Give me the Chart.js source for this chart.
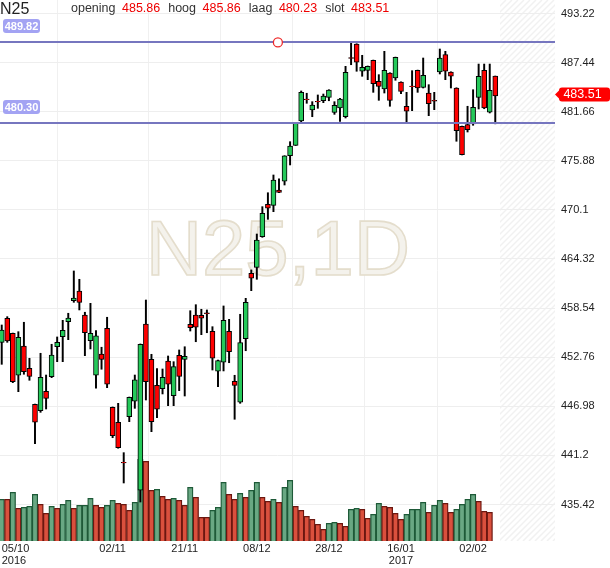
<!DOCTYPE html>
<html><head><meta charset="utf-8">
<script src="https://cdn.jsdelivr.net/npm/chart.js@4.4.1/dist/chart.umd.min.js"></script>
<style>html,body{margin:0;padding:0;background:#fff;overflow:hidden}#wrap{position:relative;width:610px;height:568px}</style>
</head><body><div id="wrap"><canvas id="c" width="610" height="568"></canvas></div>
<script>
// ---------- data ----------
const symbol = 'N25';
const interval = '1D';
const tickIdx  = [0, 20, 33, 46, 59, 72, 85];
const tickText = [['05/10','2016'], '02/11', '21/11', '08/12', '28/12', ['16/01','2017'], '02/02'];
const priceTicks = [493.22, 487.44, 481.66, 475.88, 470.1, 464.32, 458.54, 452.76, 446.98, 441.2, 435.42];
const levels = [489.82, 480.30];
const levelAnchor = 49.8;
const headerNames = ['opening', 'hoog', 'laag', 'slot'];

const opens = [454.51,457.34,455.57,450.63,454.08,451.45,447.22,446.46,448.75,450.46,
453.99,455.17,456.94,459.41,460.55,457.73,454.70,450.63,453.14,456.16,
446.86,445.10,440.38,445.75,447.57,437.09,456.67,452.51,449.45,449.05,
452.31,448.23,452.98,452.51,456.63,457.73,457.69,457.97,455.81,451.10,
452.16,455.81,449.92,447.45,454.94,462.64,463.34,466.95,470.76,470.64,
472.44,473.47,476.48,477.70,480.57,483.16,481.86,482.88,482.95,483.35,
481.57,482.10,481.07,488.02,489.63,486.42,486.53,487.71,485.24,484.33,
486.22,485.63,485.16,482.30,484.69,486.53,484.53,483.86,482.99,486.33,
488.37,486.33,484.45,479.94,480.13,480.21,483.35,486.53,481.59,485.86];
const highs = [456.55,457.53,455.60,455.76,456.87,452.63,447.25,453.22,450.66,454.28,
455.14,457.10,457.93,462.91,461.93,458.05,459.10,455.88,453.93,457.46,
446.90,447.33,441.52,448.07,450.66,454.32,459.49,453.10,451.41,451.37,
452.90,452.23,453.61,453.99,458.23,458.94,458.40,458.32,456.35,452.43,
458.79,457.22,450.63,457.81,459.69,463.03,467.26,470.48,472.12,474.21,
473.77,476.48,478.13,480.33,484.10,483.83,482.84,483.63,483.74,484.25,
482.84,483.23,487.00,489.75,489.66,488.30,487.04,487.74,486.02,488.77,
486.25,488.09,485.19,483.94,486.49,486.56,487.98,484.84,483.94,489.04,
488.77,486.36,484.48,479.97,482.30,484.25,487.27,487.27,487.27,485.86];
const lows = [451.92,454.51,449.76,448.70,450.75,450.04,442.58,446.27,446.66,450.35,
452.23,452.23,454.82,459.22,458.32,452.94,453.73,449.10,451.34,449.17,
443.28,442.04,437.95,445.17,446.74,435.71,447.72,443.99,445.64,448.43,
447.05,447.05,448.82,448.19,455.84,454.58,455.41,455.64,451.25,449.29,
451.14,452.11,445.45,447.33,453.52,460.59,461.93,466.87,468.99,469.89,
472.14,473.03,475.39,477.68,480.41,482.65,481.07,482.06,482.72,482.95,
481.35,480.51,480.92,487.19,486.42,485.83,485.43,483.94,483.00,483.86,
482.30,485.36,483.78,480.33,481.78,483.94,484.45,481.19,481.90,486.10,
485.43,484.45,478.18,476.56,479.27,480.06,481.98,482.01,481.51,480.23];
const closes = [455.96,454.67,449.87,455.10,451.05,450.51,445.10,450.39,447.92,453.02,
454.51,455.93,457.37,459.73,459.22,455.64,455.57,455.26,452.51,449.57,
443.52,442.11,440.30,448.04,450.08,454.28,449.87,445.17,446.63,450.39,
449.57,451.64,450.51,452.87,456.23,456.28,457.34,457.89,452.63,452.35,
457.10,453.41,449.45,454.47,459.22,462.05,466.56,469.70,470.29,473.62,
472.17,476.45,477.62,480.29,483.94,483.08,482.45,482.80,483.51,484.21,
482.41,483.15,486.30,487.94,487.48,486.89,487.00,484.96,484.65,486.53,
483.00,488.06,484.06,481.71,484.61,484.45,485.94,482.60,482.91,487.98,
486.42,485.83,479.42,476.60,479.54,482.18,485.83,482.10,484.18,483.51];
const volumes = [41.7,41.7,48.7,32.7,33.7,34.7,46.7,36.7,27.7,34.7,
32.7,36.7,40.7,32.7,35.7,35.7,42.7,35.7,33.7,35.7,
40.7,37.7,36.7,30.7,38.7,81.7,79.7,50.7,51.7,44.7,
41.7,42.7,40.7,35.7,53.7,43.7,23.7,23.7,30.7,33.7,
58.7,46.7,41.7,47.7,43.7,50.7,58.7,43.7,39.7,41.7,
38.7,53.7,60.7,34.7,30.7,24.7,21.7,16.7,11.7,17.7,
18.7,17.7,14.7,31.7,32.7,31.7,22.7,26.7,37.7,34.7,
33.7,27.7,21.7,26.7,31.7,31.7,38.7,28.7,35.7,40.7,
37.7,28.7,31.7,36.7,41.7,46.7,39.7,29.7,28.7];
const volUp = [1,0,1,0,1,1,1,0,0,1,
0,1,1,0,1,1,1,0,0,1,
1,0,0,0,1,1,0,0,1,0,
0,1,0,0,1,0,0,0,1,1,
1,0,0,1,0,1,1,0,0,1,
0,1,1,0,0,0,0,0,0,1,
1,0,0,1,1,0,0,1,1,0,
0,0,0,1,1,1,1,0,1,1,
0,0,1,1,1,1,0,0,0];

// ---------- chart ----------
const FONT = '"Liberation Sans", Arial, sans-serif';
Chart.defaults.font.family = FONT;
const idx = opens.map((_, i) => i);
const last = opens.length - 1;

const bodies = idx.map(i => ({x: i, y: [opens[i], closes[i]]}));
const wicks = idx.map(i => ({x: i, y: [lows[i], highs[i]]}));
const vols = volumes.map((v, i) => ({x: i, y: v}));

const overlay = {
  id: 'overlay',
  beforeDraw(chart) {
    const {ctx, chartArea: a, scales: {x}} = chart;
    const hx = x.getPixelForValue(last + 0.85);
    ctx.save();
    ctx.beginPath(); ctx.rect(hx, a.top, a.right - hx, a.bottom - a.top); ctx.clip();
    ctx.strokeStyle = '#f1f1f1'; ctx.lineWidth = 1.5;
    const h = a.bottom - a.top;
    for (let k = -h; k < a.right - hx + 6; k += 6) {
      ctx.beginPath();
      ctx.moveTo(hx + k, a.bottom);
      ctx.lineTo(hx + k + h, a.top);
      ctx.stroke();
    }
    ctx.restore();
  },
  beforeDatasetsDraw(chart) {
    const {ctx, scales: {x, y}} = chart;
    ctx.save();
    ctx.font = '78px ' + FONT;
    ctx.textAlign = 'center'; ctx.textBaseline = 'alphabetic';
    const cx = x.getPixelForValue(49.8), by = y.getPixelForValue(462.4);
    ctx.fillStyle = '#f4f2ec';
    ctx.fillText(symbol + ',' + interval, cx, by);
    ctx.strokeStyle = '#e4ddcc'; ctx.lineWidth = 1.6;
    ctx.strokeText(symbol + ',' + interval, cx, by);
    ctx.restore();
  },
  afterDatasetsDraw(chart) {
    const {ctx, chartArea: a, scales: {x, y}} = chart;
    ctx.save();
    levels.forEach(lv => {
      const py = Math.round(y.getPixelForValue(lv));
      ctx.strokeStyle = '#7676bf'; ctx.lineWidth = 2;
      ctx.beginPath(); ctx.moveTo(a.left, py); ctx.lineTo(a.right, py); ctx.stroke();
      ctx.fillStyle = '#a3a3f3';
      ctx.beginPath(); ctx.roundRect(3, py - 23, 37, 14, 3); ctx.fill();
      ctx.fillStyle = '#ffffff'; ctx.font = 'bold 11px ' + FONT;
      ctx.textAlign = 'center'; ctx.textBaseline = 'middle';
      ctx.fillText(lv.toFixed(2), 21.5, py - 15.5);
    });
    const cx = x.getPixelForValue(levelAnchor), cy = y.getPixelForValue(levels[0]);
    ctx.beginPath(); ctx.arc(cx, cy, 4.5, 0, Math.PI * 2);
    ctx.fillStyle = '#ffffff'; ctx.fill();
    ctx.strokeStyle = '#ee2a2a'; ctx.lineWidth = 1.3; ctx.stroke();
    ctx.restore();
  },
  afterDraw(chart) {
    const {ctx, chartArea: a, scales: {y}} = chart;
    ctx.save();
    // price tag
    const py = y.getPixelForValue(closes[last]) - 1.5;
    ctx.fillStyle = '#ff0000';
    ctx.beginPath();
    ctx.moveTo(a.right, py);
    ctx.lineTo(a.right + 4, py - 4);
    ctx.lineTo(a.right + 4, py - 6);
    ctx.arcTo(a.right + 4, py - 7, a.right + 7, py - 7, 3);
    ctx.lineTo(607, py - 7);
    ctx.arcTo(610, py - 7, 610, py - 4, 3);
    ctx.lineTo(610, py + 4);
    ctx.arcTo(610, py + 7, 607, py + 7, 3);
    ctx.lineTo(a.right + 7, py + 7);
    ctx.arcTo(a.right + 4, py + 7, a.right + 4, py + 4, 3);
    ctx.lineTo(a.right + 4, py + 4);
    ctx.closePath(); ctx.fill();
    ctx.fillStyle = '#ffffff'; ctx.font = '12.5px ' + FONT;
    ctx.textAlign = 'center'; ctx.textBaseline = 'middle';
    ctx.fillText(closes[last].toFixed(2), 582.5, py + 0.5);
    // header
    ctx.textAlign = 'left'; ctx.textBaseline = 'alphabetic';
    ctx.font = '16px ' + FONT; ctx.fillStyle = '#222';
    ctx.fillText(symbol, 0, 14);
    const vals = [opens[last], highs[last], lows[last], closes[last]];
    let hx = 71;
    ctx.font = '12.5px ' + FONT;
    headerNames.forEach((nm, k) => {
      ctx.fillStyle = '#333';
      ctx.fillText(nm, hx, 12);
      hx += ctx.measureText(nm).width + 6.5;
      ctx.fillStyle = '#ee0000';
      const t = vals[k].toFixed(2);
      ctx.fillText(t, hx, 12);
      hx += ctx.measureText(t).width + 8;
    });
    ctx.restore();
  }
};

new Chart(document.getElementById('c'), {
  type: 'bar',
  data: {
    datasets: [
      { data: bodies, yAxisID: 'y', order: 0, grouped: false, barThickness: 5,
        backgroundColor: bodies.map((d, i) => closes[i] >= opens[i] ? '#25c95a' : '#ff0000'),
        borderColor: '#000', borderWidth: 1, borderSkipped: false },
      { data: wicks, yAxisID: 'y', order: 1, grouped: false, barThickness: 1.3,
        backgroundColor: '#000', borderWidth: 0 },
      { data: vols, yAxisID: 'yv', order: 2, grouped: false, barThickness: 5.55,
        backgroundColor: volUp.map(u => u ? '#69a883' : '#da503d'),
        borderColor: volUp.map(u => u ? '#1e5a38' : '#6b1710'),
        borderWidth: 1.3, borderSkipped: 'start' }
    ]
  },
  options: {
    responsive: false, animation: false, devicePixelRatio: 1,
    layout: { padding: 0 },
    plugins: { legend: { display: false }, tooltip: { enabled: false } },
    scales: {
      x: {
        type: 'linear', position: 'bottom', min: -0.31, max: 99.77, offset: false,
        grid: { drawTicks: false, color: c => (c.index > 0 && c.index <= tickIdx.length - 1) ? '#f0f0f0' : 'rgba(0,0,0,0)' },
        border: { display: false },
        afterBuildTicks: s => { s.ticks = tickIdx.concat([s.max]).map(v => ({ value: v })); },
        afterFit: s => { s.height = 27; s.paddingLeft = 0; s.paddingRight = 0; },
        ticks: {
          autoSkip: false, maxRotation: 0, minRotation: 0, align: 'inner', padding: 2,
          color: '#222', font: { size: 11, lineHeight: 1.1 },
          callback: v => { const k = tickIdx.indexOf(v); return k >= 0 ? tickText[k] : ''; }
        }
      },
      y: {
        type: 'linear', position: 'right', min: 431.12, max: 494.81,
        grid: { drawTicks: false, color: '#eeeeee' },
        border: { display: false },
        afterBuildTicks: s => { s.ticks = priceTicks.map(v => ({ value: v })); },
        afterFit: s => { s.width = 55; s.paddingTop = 0; s.paddingBottom = 0; },
        ticks: { autoSkip: false, padding: 6, color: '#222', font: { size: 11 },
          callback: v => String(v) }
      },
      yv: { type: 'linear', display: false, min: 0, max: 541 }
    }
  },
  plugins: [overlay]
});
</script>
</body></html>
